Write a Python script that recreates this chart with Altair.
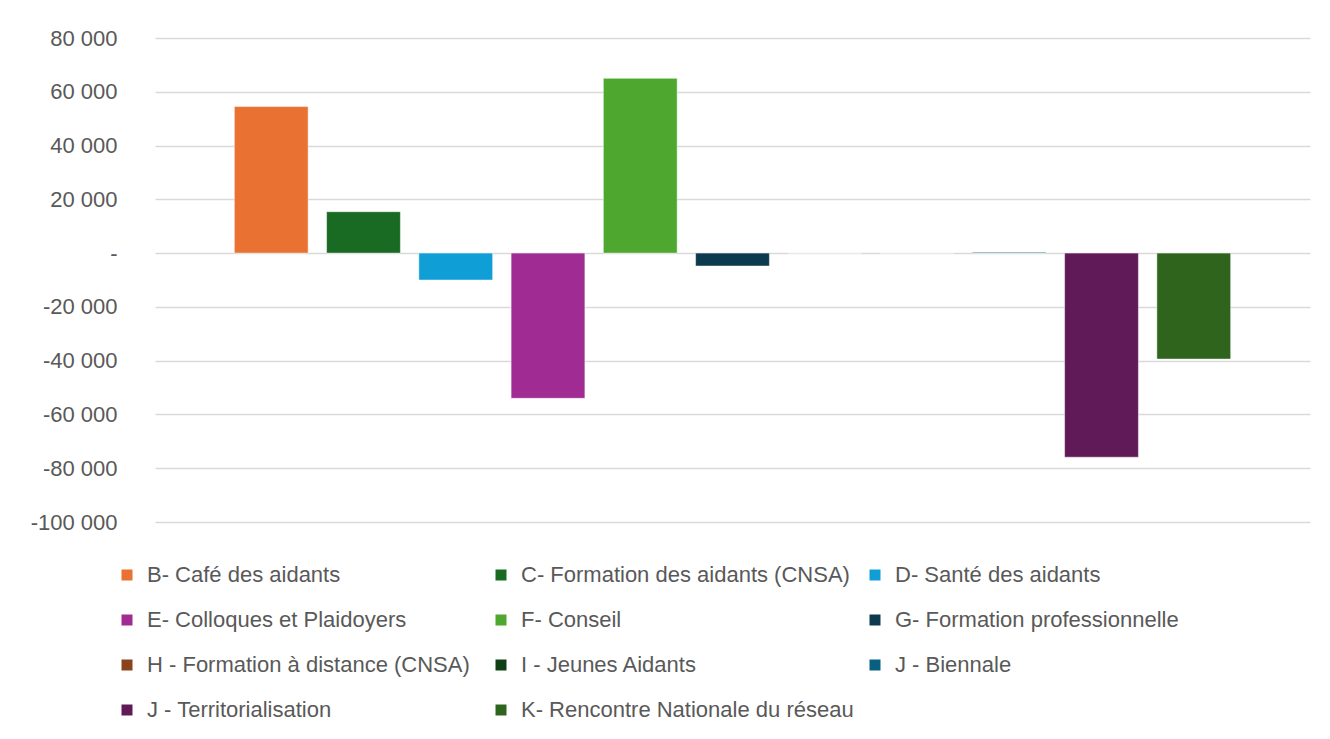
import altair as alt
import pandas as pd

series = [
    "B- Café des aidants",
    "C- Formation des aidants (CNSA)",
    "D- Santé des aidants",
    "E- Colloques et Plaidoyers",
    "F- Conseil",
    "G- Formation professionnelle",
    "H - Formation à distance (CNSA)",
    "I - Jeunes Aidants",
    "J - Biennale",
    "J - Territorialisation",
    "K- Rencontre Nationale du réseau",
]
values = [54500, 15400, -10000, -54000, 65000, -4800, 0, 0, 300, -75900, -39400]
colors = [
    "#E97132", "#196B24", "#0F9ED5", "#A02B93", "#4EA72E", "#0D3A4E",
    "#8B431E", "#0F4015", "#095F80", "#601A58", "#2F641C",
]
y_ticks = [-100000, -80000, -60000, -40000, -20000, 0, 20000, 40000, 60000, 80000]

df = pd.DataFrame({"series": series, "value": values})

FONT = "Liberation Sans"
TXT = "#595959"

label_expr = (
    "datum.value == 0 ? '-\u00a0\u00a0' : "
    "replace(replace(format(datum.value, ','), ',', ' '), '\u2212', '-')"
)

chart = alt.Chart(df).mark_bar(
    stroke="white", strokeWidth=0.8, strokeOpacity=0.6
).encode(
    x=alt.X("series:N", sort=series, axis=None,
            scale=alt.Scale(paddingInner=0.2, paddingOuter=0.86)),
    y=alt.Y("value:Q",
            scale=alt.Scale(domain=[-100000, 80000], nice=False, zero=False),
            axis=alt.Axis(values=y_ticks, title=None, domain=False, ticks=False,
                          labelPadding=38, labelFontSize=22, labelColor=TXT,
                          labelFont=FONT, gridColor="#D9D9D9", gridWidth=1.5,
                          labelExpr=label_expr)),
    color=alt.Color("series:N", sort=series,
                    scale=alt.Scale(domain=series, range=colors),
                    legend=alt.Legend(title=None, orient="none", legendX=-39, legendY=526,
                                      direction="horizontal",
                                      columns=3, gridAlign="all", symbolType="square",
                                      symbolSize=121, symbolStrokeWidth=0,
                                      labelFontSize=22, labelColor=TXT, labelFont=FONT,
                                      labelOffset=9, rowPadding=23, columnPadding=10,
                                      labelLimit=500)),
).properties(
    width=1155, height=484,
    padding={"left": 22, "top": 19, "right": 5, "bottom": 5},
).configure_view(stroke=None)

chart.save("out.html", embed_options={"renderer": "svg", "actions": False})
